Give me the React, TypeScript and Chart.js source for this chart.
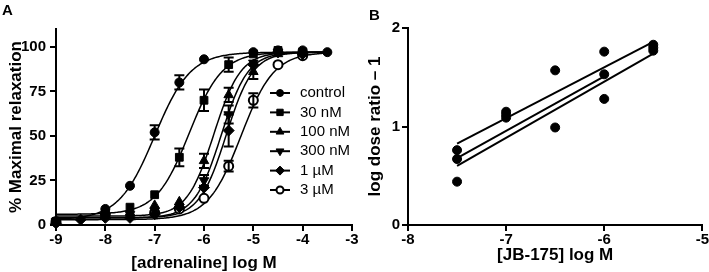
import React, { useEffect, useRef } from "react";
import { Chart, registerables } from "chart.js";
import { drawPoint } from "chart.js/helpers";

Chart.register(...registerables);

const FONT = "'Liberation Sans', Arial, Helvetica, sans-serif";

// ---------- Panel A data ----------
const doseLogs = [-9, -8.5, -8, -7.5, -7, -6.5, -6, -5.5, -5, -4.5, -4, -3.5];
const seriesNames = ["control", "30 nM", "100 nM", "300 nM", "1 \u00B5M", "3 \u00B5M"];
const controlResp = [1.5, null, 9, 22, 52, 80, 93, null, 97, 98, 98, 97];
const nM30Resp = [2, null, 7, 10, 17, 38, 70, 90, 96, 98, 97, null];
const nM100Resp = [2, null, 6, 7, 11, 13, 36, 73, 86, 96, 97, null];
const nM300Resp = [2, null, 5, 6, 8, 10, 25, 62, 91, 97, 96, null];
const uM1Resp = [1, 3, 4, 4, 6, 10, 21, 53, 90, 97, 96, null];
const uM3Resp = [2, null, 6, null, 7, 9, 15, 33, 70, 90, 95, null];

const controlSem = [null, null, null, null, 4, 4, null, null, null, null, null, null];
const nM30Sem = [null, null, null, null, null, 5, 6, 4, null, null, null, null];
const nM100Sem = [null, null, null, null, null, null, 4, 4, 4, null, null, null];
const nM300Sem = [null, null, null, null, null, null, 3, 5, null, null, null, null];
const uM1Sem = [null, null, null, null, null, null, null, 9, null, null, null, null];
const uM3Sem = [null, null, null, null, null, null, null, 3, 4, null, null, null];

// fitted sigmoid parameters (bottom, top, logEC50, Hill slope)
const fitBottom = [3, 6, 5, 4, 4, 3];
const fitTop = [97, 97, 97, 97, 97, 97];
const fitLogEC50 = [-7.0, -6.3, -5.8, -5.65, -5.55, -5.25];
const fitHill = [1.2, 1.3, 1.6, 1.6, 1.6, 1.3];
const curveRange = [-9, -3.5];

const xTicksA = [-9, -8, -7, -6, -5, -4, -3];
const yTicksA = [0, 25, 50, 75, 100];

// ---------- Panel B data ----------
const jbLogs = [-7.5, -7.5, -7.5, -7, -7, -7, -6.5, -6.5, -6, -6, -6, -5.5, -5.5, -5.5];
const doseRatios = [0.76, 0.67, 0.44, 1.15, 1.12, 1.09, 1.57, 0.99, 1.76, 1.53, 1.28, 1.83, 1.8, 1.77];
const regStartX = [-7.5, -7.5, -7.5];
const regEndX = [-5.5, -6, -5.5];
const regStartY = [0.825, 0.68, 0.6];
const regEndY = [1.86, 1.51, 1.74];
const xTicksB = [-8, -7, -6, -5];
const yTicksB = [0, 1, 2];

// ---------- styles ----------
const markerStyles = ["circle", "rect", "triangle", "triangle", "rectRot", "circle"];
const markerRotations = [0, 0, 0, 180, 0, 0];
const markerFills = ["#000", "#000", "#000", "#000", "#000", "#fff"];
const markerRadii = [4.5, 5.5, 5.5, 5.5, 5.5, 4.5];
const legendRadii = [3.5, 4.5, 4.5, 4.5, 4.5, 3.5];

function fourPL(x: number, i: number) {
  return fitBottom[i] + (fitTop[i] - fitBottom[i]) / (1 + Math.pow(10, (fitLogEC50[i] - x) * fitHill[i]));
}

function axisBase(min: number, max: number, ticks: number[], isX: boolean, size: number, title: string, titlePad: any, tickPad: number) {
  return {
    type: "linear",
    min,
    max,
    afterBuildTicks: (s: any) => {
      s.ticks = ticks.map((v) => ({ value: v }));
    },
    afterFit: (s: any) => {
      if (isX) s.height = size;
      else s.width = size;
    },
    ticks: {
      color: "#000",
      padding: tickPad,
      maxRotation: 0,
      autoSkip: false,
      font: { family: FONT, size: 15, weight: "bold", lineHeight: 1.2 },
      callback: (v: any) => String(v),
    },
    grid: {
      display: true,
      drawOnChartArea: false,
      drawTicks: true,
      tickLength: 6,
      color: "#000",
      lineWidth: 2,
    },
    border: { display: true, color: "#000", width: 2 },
    title: {
      display: true,
      text: title,
      color: "#000",
      padding: titlePad,
      font: { family: FONT, size: 17, weight: "bold", lineHeight: 1 },
    },
  };
}

const respSeries = [controlResp, nM30Resp, nM100Resp, nM300Resp, uM1Resp, uM3Resp];
const semSeries = [controlSem, nM30Sem, nM100Sem, nM300Sem, uM1Sem, uM3Sem];

function ChartA() {
  const ref = useRef<HTMLCanvasElement>(null);
  useEffect(() => {
    const canvas = ref.current!;
    const curveSteps = 220;
    const curveDatasets = seriesNames.map((name, i) => {
      const pts: any[] = [];
      for (let k = 0; k <= curveSteps; k++) {
        const x = curveRange[0] + ((curveRange[1] - curveRange[0]) * k) / curveSteps;
        pts.push({ x, y: fourPL(x, i) });
      }
      return {
        label: name + " fit",
        data: pts,
        showLine: true,
        borderColor: "#000",
        borderWidth: 1.5,
        pointRadius: 0,
        pointHoverRadius: 0,
        fill: false,
        clip: false,
        order: 2,
      };
    });
    const pointDatasets = seriesNames.map((name, i) => {
      const pts: any[] = [];
      doseLogs.forEach((x, j) => {
        const v = respSeries[i][j];
        if (v !== null && v !== undefined) pts.push({ x, y: v });
      });
      return {
        label: name,
        data: pts,
        showLine: false,
        pointStyle: markerStyles[i],
        rotation: markerRotations[i],
        pointRotation: markerRotations[i],
        radius: markerRadii[i],
        pointRadius: markerRadii[i],
        pointHoverRadius: markerRadii[i],
        backgroundColor: markerFills[i],
        pointBackgroundColor: markerFills[i],
        borderColor: "#000",
        pointBorderColor: "#000",
        borderWidth: i === 5 ? 2 : 1,
        pointBorderWidth: i === 5 ? 2 : 1,
        clip: false,
        order: 1,
      };
    });

    const errorBars = {
      id: "errorBars",
      afterDatasetsDraw(chart: any) {
        const { ctx } = chart;
        const xs = chart.scales.x;
        const ys = chart.scales.y;
        ctx.save();
        ctx.strokeStyle = "#000";
        ctx.lineWidth = 2;
        semSeries.forEach((sems, i) => {
          sems.forEach((sem: any, j: number) => {
            const v = respSeries[i][j];
            if (sem == null || v == null) return;
            const px = xs.getPixelForValue(doseLogs[j]);
            const yHi = ys.getPixelForValue(v + sem);
            const yLo = ys.getPixelForValue(v - sem);
            ctx.beginPath();
            ctx.moveTo(px, yHi);
            ctx.lineTo(px, yLo);
            ctx.moveTo(px - 5, yHi);
            ctx.lineTo(px + 5, yHi);
            ctx.moveTo(px - 5, yLo);
            ctx.lineTo(px + 5, yLo);
            ctx.stroke();
          });
        });
        ctx.restore();
      },
    };

    const legendPlugin = {
      id: "customLegend",
      afterDraw(chart: any) {
        const { ctx } = chart;
        ctx.save();
        seriesNames.forEach((name, i) => {
          const y = 93 + i * 19.4;
          ctx.strokeStyle = "#000";
          ctx.lineWidth = 2;
          ctx.beginPath();
          ctx.moveTo(270, y);
          ctx.lineTo(290, y);
          ctx.stroke();
          ctx.fillStyle = markerFills[i];
          ctx.strokeStyle = "#000";
          ctx.lineWidth = i === 5 ? 2 : 1;
          drawPoint(ctx, { pointStyle: markerStyles[i], rotation: markerRotations[i], radius: legendRadii[i], borderWidth: i === 5 ? 2 : 1 } as any, 280, y);
          ctx.fillStyle = "#000";
          ctx.font = `15px ${FONT}`;
          ctx.textAlign = "left";
          ctx.textBaseline = "middle";
          ctx.fillText(name, 300, y);
        });
        ctx.restore();
      },
    };

    const chart = new Chart(canvas, {
      type: "scatter",
      data: { datasets: [...pointDatasets, ...curveDatasets] as any },
      options: {
        animation: false,
        responsive: false,
        events: [],
        devicePixelRatio: 1,
        layout: { padding: { top: 29, right: 10, left: 0, bottom: 0 } },
        plugins: { legend: { display: false }, tooltip: { enabled: false } },
        scales: {
          x: axisBase(-9, -3, xTicksA, true, 47, "[adrenaline] log M", { top: 0, bottom: 0.5 }, 0) as any,
          y: axisBase(0, 110, yTicksA, false, 56, "% Maximal relaxation", { top: 7.5, bottom: 0 }, 4) as any,
        },
      },
      plugins: [errorBars, legendPlugin],
    });
    return () => chart.destroy();
  }, []);
  return <canvas ref={ref} width={362} height={272} style={{ width: 362, height: 272, display: "block" }} />;
}

function ChartB() {
  const ref = useRef<HTMLCanvasElement>(null);
  useEffect(() => {
    const canvas = ref.current!;
    const lineDatasets = regStartX.map((sx, k) => ({
      label: "fit " + (k + 1),
      data: [
        { x: sx, y: regStartY[k] },
        { x: regEndX[k], y: regEndY[k] },
      ],
      showLine: true,
      borderColor: "#000",
      borderWidth: 2,
      pointRadius: 0,
      pointHoverRadius: 0,
      fill: false,
      clip: false,
      order: 2,
    }));
    const pts = jbLogs.map((x, i) => ({ x, y: doseRatios[i] }));
    const chart = new Chart(canvas, {
      type: "scatter",
      data: {
        datasets: [
          {
            label: "dose ratio",
            data: pts,
            showLine: false,
            pointStyle: "circle",
            radius: 4.5,
            pointRadius: 4.5,
            pointHoverRadius: 4.5,
            backgroundColor: "#000",
            pointBackgroundColor: "#000",
            borderColor: "#000",
            pointBorderColor: "#000",
            borderWidth: 1,
            clip: false,
            order: 1,
          },
          ...lineDatasets,
        ] as any,
      },
      options: {
        animation: false,
        responsive: false,
        events: [],
        devicePixelRatio: 1,
        layout: { padding: { top: 28, right: 6, left: 0, bottom: 0 } },
        plugins: { legend: { display: false }, tooltip: { enabled: false } },
        scales: {
          x: axisBase(-8, -5, xTicksB, true, 47, "[JB-175] log M", { top: 0, bottom: 8.5 }, 0) as any,
          y: axisBase(0, 2, yTicksB, false, 46, "log dose ratio \u2013 1", { top: 4.5, bottom: 0 }, 2) as any,
        },
      },
    });
    return () => chart.destroy();
  }, []);
  return <canvas ref={ref} width={347} height={272} style={{ width: 347, height: 272, display: "block" }} />;
}

export default function App() {
  const label: React.CSSProperties = {
    position: "absolute",
    fontFamily: FONT,
    fontWeight: "bold",
    fontSize: 15,
    lineHeight: "15px",
    color: "#000",
  };
  return (
    <div style={{ position: "absolute", left: 0, top: 0, width: 709, height: 272, background: "#fff", overflow: "hidden" }}>
      <div style={{ position: "absolute", left: 0, top: 0 }}>
        <ChartA />
      </div>
      <div style={{ position: "absolute", left: 362, top: 0 }}>
        <ChartB />
      </div>
      <div style={{ ...label, left: 2, top: 2 }}>A</div>
      <div style={{ ...label, left: 369, top: 7 }}>B</div>
    </div>
  );
}
